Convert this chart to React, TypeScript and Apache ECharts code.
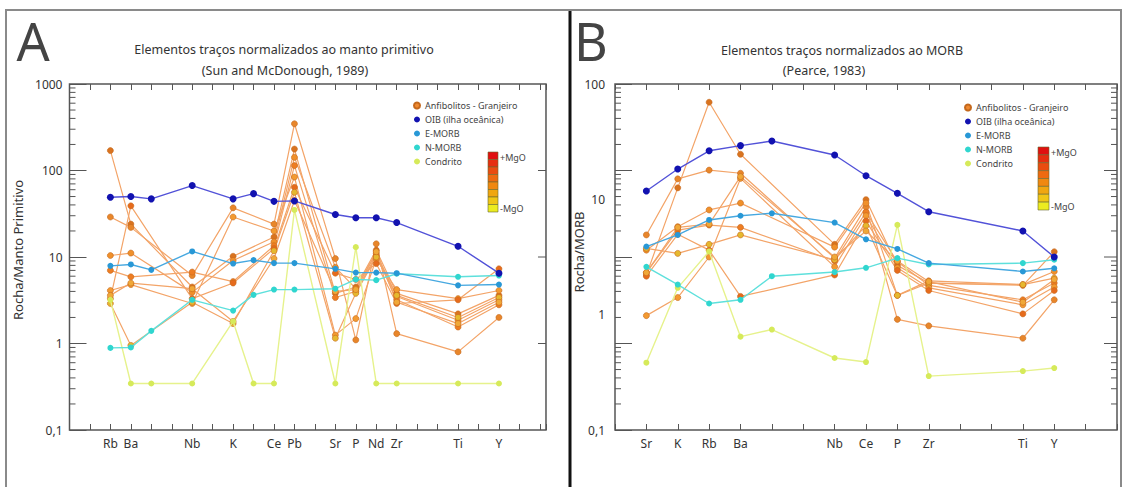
import React, { useEffect, useRef } from 'react';
import * as echarts from 'echarts';

// ---------- tick labels (axis positions) ----------
const ticksA = ['', '', 'Rb', 'Ba', '', '', 'Nb', '', 'K', '', 'Ce', 'Pb', '', 'Sr', 'P', 'Nd', 'Zr', '', '', 'Ti', '', 'Y', '', ''];
const ticksB = ['', 'Sr', 'K', 'Rb', 'Ba', '', '', 'Nb', 'Ce', 'P', 'Zr', '', '', 'Ti', 'Y', '', ''];

const N = null;

// ---------- Panel A : normalized to primitive mantle ----------
const oibA = [N, N, 49, 50, 47, N, 67, N, 47, 54, 44, 44.5, N, 31, 28.4, 28.4, 25, N, N, 13.3, N, 6.5, N, N];
const emorbA = [N, N, 7.9, 8.2, 7.1, N, 11.6, N, 8.4, 9.2, 8.5, 8.5, N, 7.3, 6.6, 6.6, 6.5, N, N, 4.7, N, 4.8, N, N];
const nmorbA = [N, N, 0.89, 0.9, 1.4, N, 3.2, N, 2.4, 3.65, 4.2, 4.2, N, 4.3, 5.5, 5.4, 6.4, N, N, 5.9, N, 6.1, N, N];
const chondA = [N, N, 3.2, 0.345, 0.345, N, 0.345, N, 1.8, 0.345, 0.345, 35, N, 0.345, 13, 0.345, 0.345, N, N, 0.345, N, 0.345, N, N];
const samplesA = [
  [N, N, 170, 24, N, N, 4.5, N, 10.2, N, 17, 177, N, 3.8, 4.5, 12, 3.8, N, N, 2.2, N, 3.6, N, N],
  [N, N, 29, 22, N, N, 6.1, N, 37, N, 24, 347, N, 9.6, 1.1, 14.2, 1.3, N, N, 0.8, N, 2.0, N, N],
  [N, N, 10.4, 11.1, N, N, 3.9, N, 9.1, N, 15, 142, N, 7.6, 4.3, 11, 3.5, N, N, 1.86, N, 3.2, N, N],
  [N, N, 7.0, 5.9, N, N, 6.7, N, 5.2, N, 13.5, 114, N, 3.4, 4.0, 10.4, 3.2, N, N, 1.55, N, 2.8, N, N],
  [N, N, 4.1, 4.8, N, N, 2.9, N, 29, N, 20, 84, N, 1.25, 1.94, 9.5, 4.2, N, N, 3.3, N, 4.1, N, N],
  [N, N, 3.3, 39, N, N, 3.3, N, 5.0, N, 12.5, 64, N, 6.5, 5.5, 8.4, 2.9, N, N, 3.2, N, 7.3, N, N],
  [N, N, 2.9, 0.95, N, N, 3.0, N, 1.7, N, 11.8, 56, N, 1.15, 3.8, 10, 3.6, N, N, 2.0, N, 3.4, N, N],
  [N, N, 3.6, 5.0, N, N, 4.3, N, 1.8, N, 9.6, 45, N, 4.0, 4.2, 11.5, 3.0, N, N, 1.7, N, 3.0, N, N],
];

// ---------- Panel B : normalized to MORB ----------
const oibB = [N, 5.8, 10.4, 16.9, 19.4, 21.9, N, 15.1, 8.7, 5.45, 3.34, N, N, 2.0, 1.0, N, N];
const emorbB = [N, 1.32, 1.8, 2.68, 3.0, 3.2, N, 2.5, 1.6, 1.24, 0.85, N, N, 0.68, 0.74, N, N];
const nmorbB = [N, 0.77, 0.48, 0.29, 0.32, 0.6, N, 0.67, 0.75, 0.97, 0.82, N, N, 0.85, 0.93, N, N];
const chondB = [N, 0.06, 0.44, 1.16, 0.12, 0.145, N, 0.068, 0.061, 2.35, 0.042, N, N, 0.048, 0.052, N, N];
const samplesB = [
  [N, 0.62, 6.3, 61.5, 15.4, N, N, 1.4, 4.6, 0.8, 0.5, N, N, 0.47, 1.15, N, N],
  [N, 1.8, 8.0, 10.1, 9.3, N, N, 0.97, 3.8, 0.19, 0.16, N, N, 0.115, 0.32, N, N],
  [N, 1.2, 2.24, 3.5, 4.2, N, N, 1.3, 4.2, 0.36, 0.53, N, N, 0.48, 0.68, N, N],
  [N, 0.66, 2.05, 2.34, 2.2, N, N, 0.9, 3.3, 0.88, 0.47, N, N, 0.32, 0.5, N, N],
  [N, 0.21, 0.34, 1.0, 8.1, N, N, 0.77, 3.0, 0.75, 0.44, N, N, 0.28, 0.45, N, N],
  [N, 0.6, 1.83, 1.2, 0.35, N, N, 0.62, 2.6, 0.7, 0.41, N, N, 0.22, 0.41, N, N],
  [N, 1.26, 1.1, 1.4, 1.8, N, N, 0.93, 2.3, 0.36, 0.5, N, N, 0.48, 0.57, N, N],
  [N, 0.66, 2.2, 2.4, 8.5, N, N, 1.0, 2.0, 0.9, 0.52, N, N, 0.3, 0.55, N, N],
];

// ---------- names ----------
const NAME_S = 'Anfibolitos - Granjeiro';
const NAME_OIB = 'OIB (ilha oceânica)';
const NAME_E = 'E-MORB';
const NAME_N = 'N-MORB';
const NAME_C = 'Condrito';

// ---------- log minor ticks ----------
const minorFactors = [2, 3, 4, 5, 6, 7, 8, 9];
const decadesA = [0.1, 1, 10, 100];
const decadesB = [0.01, 0.1, 1, 10];
const rightMajorA = [1, 10, 100];
const rightMajorB = [0.1, 1, 10];

// styles
const sampleDot = ['#d9731f', '#e8862a', '#f0902a', '#ee7d22', '#f39a30', '#e66b1c', '#e6b82e', '#f0a838'];
const mgoScale = ['#e01010', '#e62e10', '#ea4c10', '#ee6a10', '#f08810', '#f0a610', '#f0c616', '#ecec20'];
const AXIS = '#555';
const XMAX_A = 23.3;
const XMAX_B = 16;

const pairs = (arr: (number | null)[]) =>
  arr.map((v, i) => (v == null ? null : [i, v])).filter((p) => p !== null) as number[][];

function refSeries(name: string, arr: (number | null)[], xi: number, yi: number, line: string, dot: string, size: number, z: number) {
  return {
    type: 'line', name, data: pairs(arr), xAxisIndex: xi, yAxisIndex: yi,
    symbol: 'circle', symbolSize: size, silent: true, z,
    lineStyle: { color: line, width: 1.4 },
    itemStyle: { color: dot },
  };
}

function sampleSeries(arr: (number | null)[], idx: number, xi: number, yi: number) {
  return {
    type: 'line', name: NAME_S, data: pairs(arr), xAxisIndex: xi, yAxisIndex: yi,
    symbol: 'circle', symbolSize: 6, silent: true, z: 2,
    lineStyle: { color: '#f3a468', width: 1.2 },
    itemStyle: { color: sampleDot[idx], borderColor: '#c4681c', borderWidth: 0.6 },
  };
}

function tickSeries(xi: number, yi: number, xMax: number, items: number[][]) {
  return {
    type: 'custom', xAxisIndex: xi, yAxisIndex: yi, silent: true, z: 1,
    data: items, encode: { x: 0, y: 1 },
    renderItem: (params: any, api: any) => {
      const v = api.value(1);
      const lenL = api.value(2);
      const lenR = api.value(3);
      const pL = api.coord([0, v]);
      const pR = api.coord([xMax, v]);
      const children: any[] = [];
      if (lenL > 0) children.push({ type: 'line', shape: { x1: pL[0], y1: pL[1], x2: pL[0] + lenL, y2: pL[1] }, style: { stroke: AXIS, lineWidth: 1 } });
      if (lenR > 0) children.push({ type: 'line', shape: { x1: pR[0], y1: pR[1], x2: pR[0] - lenR, y2: pR[1] }, style: { stroke: AXIS, lineWidth: 1 } });
      return { type: 'group', children };
    },
  };
}

const minorItems = (decades: number[], lenL: number, lenR: number) => {
  const out: number[][] = [];
  decades.forEach((d) => minorFactors.forEach((k) => out.push([0, d * k, lenL, lenR])));
  return out;
};

const logLabel = (v: number) => {
  const e = Math.round(Math.log10(v));
  if (e < 0) return '0,' + '0'.repeat(-e - 1) + '1';
  return String(Math.pow(10, e));
};

const xLabel = (ticks: string[]) => (v: number) => {
  const r = Math.round(v);
  if (Math.abs(v - r) > 1e-6) return '';
  return ticks[r] || '';
};

function xAxisDef(grid: number, max: number, ticks: string[], top: boolean) {
  return {
    type: 'value', gridIndex: grid, min: 0, max, interval: 1,
    position: top ? 'top' : 'bottom',
    axisLine: { show: false },
    splitLine: { show: false },
    axisTick: { show: true, inside: true, length: 6, lineStyle: { color: AXIS, width: 1 } },
    axisLabel: top ? { show: false } : { show: true, formatter: xLabel(ticks), color: '#333', fontSize: 12, margin: 7, fontFamily: 'Noto Sans' },
  };
}

const legendDef = (left: number, top: number) => ({
  orient: 'vertical', left, top, itemWidth: 6, itemHeight: 6, itemGap: 5, padding: 0,
  icon: 'circle', selectedMode: false,
  textStyle: { fontSize: 9, color: '#444', fontFamily: 'Noto Sans' },
  data: [
    { name: NAME_S, itemStyle: { color: '#f08a30' } },
    { name: NAME_OIB }, { name: NAME_E }, { name: NAME_N }, { name: NAME_C },
  ],
});

function colorbar(x: number, y: number, w: number, h: number, labelX: number) {
  const cell = h / mgoScale.length;
  const items: any[] = mgoScale.map((c, i) => ({
    type: 'rect', shape: { x, y: y + i * cell, width: w, height: cell },
    style: { fill: c, stroke: '#6a6a30', lineWidth: 0.6 },
  }));
  items.push({ type: 'text', x: labelX, y: y + 5, style: { text: '+MgO', fontSize: 9, fill: '#444', fontFamily: 'Noto Sans', textVerticalAlign: 'middle' } });
  items.push({ type: 'text', x: labelX, y: y + h - 4, style: { text: '-MgO', fontSize: 9, fill: '#444', fontFamily: 'Noto Sans', textVerticalAlign: 'middle' } });
  return items;
}

const txt = (text: string, x: number, y: number, size: number, extra: any = {}) => ({
  type: 'text', x, y,
  style: { text, fontSize: size, fill: '#333', fontFamily: 'Noto Sans', textAlign: 'center', textVerticalAlign: 'middle', ...extra.style },
  ...extra.el,
});

const option: any = {
  animation: false,
  backgroundColor: '#fff',
  textStyle: { fontFamily: 'Noto Sans' },
  grid: [
    { left: 69.5, top: 84, width: 20.45 * XMAX_A, height: 346, show: true, borderColor: AXIS, borderWidth: 1.5, backgroundColor: 'transparent' },
    { left: 615, top: 84, width: 502, height: 346, show: true, borderColor: AXIS, borderWidth: 1.5, backgroundColor: 'transparent' },
  ],
  xAxis: [
    xAxisDef(0, XMAX_A, ticksA, false),
    xAxisDef(0, XMAX_A, ticksA, true),
    xAxisDef(1, XMAX_B, ticksB, false),
    xAxisDef(1, XMAX_B, ticksB, true),
  ],
  yAxis: [
    {
      type: 'log', logBase: 10, gridIndex: 0, min: 0.1, max: 1000, position: 'left',
      axisLine: { show: false }, splitLine: { show: false },
      axisTick: { show: true, inside: true, length: 17, lineStyle: { color: AXIS } },
      axisLabel: { formatter: logLabel, color: '#333', fontSize: 12, margin: 7, fontFamily: 'Noto Sans' },
    },
    {
      type: 'log', logBase: 10, gridIndex: 1, min: 0.01, max: 100, position: 'left',
      axisLine: { show: false }, splitLine: { show: false },
      axisTick: { show: true, inside: true, length: 17, lineStyle: { color: AXIS } },
      axisLabel: { show: false },
    },
    {
      type: 'log', logBase: 10, gridIndex: 1, min: 0.1, max: 100, position: 'left',
      axisLine: { show: false }, splitLine: { show: false }, axisTick: { show: false },
      axisLabel: { formatter: logLabel, color: '#333', fontSize: 12, margin: 10, fontFamily: 'Noto Sans' },
    },
  ],
  legend: [legendDef(413, 101), legendDef(964, 103)],
  series: [
    tickSeries(0, 0, XMAX_A, [...minorItems(decadesA, 6, 0), ...rightMajorA.map((v) => [0, v, 0, 8])]),
    tickSeries(2, 1, XMAX_B, [...minorItems(decadesB, 6, 6), ...rightMajorB.map((v) => [0, v, 0, 13])]),
    ...samplesA.map((s, i) => sampleSeries(s, i, 0, 0)),
    refSeries(NAME_C, chondA, 0, 0, '#e6f28c', '#d6ea5a', 6, 3),
    refSeries(NAME_N, nmorbA, 0, 0, '#5ee0dc', '#30d6cf', 6, 4),
    refSeries(NAME_E, emorbA, 0, 0, '#46a8e0', '#2898d6', 6, 5),
    refSeries(NAME_OIB, oibA, 0, 0, '#5252d8', '#1212b0', 7, 6),
    ...samplesB.map((s, i) => sampleSeries(s, i, 2, 1)),
    refSeries(NAME_C, chondB, 2, 1, '#e6f28c', '#d6ea5a', 6, 3),
    refSeries(NAME_N, nmorbB, 2, 1, '#5ee0dc', '#30d6cf', 6, 4),
    refSeries(NAME_E, emorbB, 2, 1, '#46a8e0', '#2898d6', 6, 5),
    refSeries(NAME_OIB, oibB, 2, 1, '#5252d8', '#1212b0', 7, 6),
  ],
  graphic: [
    { type: 'rect', shape: { x: 6, y: 10, width: 1115, height: 482 }, style: { fill: 'none', stroke: '#8a8a8a', lineWidth: 2 }, silent: true },
    { type: 'line', shape: { x1: 570, y1: 11, x2: 570, y2: 487 }, style: { stroke: '#111', lineWidth: 3 }, silent: true },
    txt('A', 33, 40, 52, { style: { fill: '#444', lineHeight: 40 } }),
    txt('B', 591, 40, 52, { style: { fill: '#444', lineHeight: 40 } }),
    txt('Elementos traços normalizados ao manto primitivo', 284, 49, 12.5),
    txt('(Sun and McDonough, 1989)', 285, 70, 12.5),
    txt('Elementos traços normalizados ao MORB', 842, 50, 12.5),
    txt('(Pearce, 1983)', 824, 70, 12.5),
    txt('Rocha/Manto Primitivo', 18, 250, 13, { el: { rotation: Math.PI / 2 } }),
    txt('Rocha/MORB', 579, 252, 13, { el: { rotation: Math.PI / 2 } }),
    ...colorbar(488, 152, 10, 60, 500),
    ...colorbar(1038, 147, 11, 63, 1051),
  ],
};

export default function App() {
  const ref = useRef<HTMLDivElement>(null);
  useEffect(() => {
    const chart = echarts.init(ref.current as HTMLDivElement, null, { renderer: 'svg' });
    chart.setOption(option);
    return () => chart.dispose();
  }, []);
  return <div ref={ref} style={{ position: 'fixed', left: 0, top: 0, width: 1125, height: 487, background: '#fff' }} />;
}
